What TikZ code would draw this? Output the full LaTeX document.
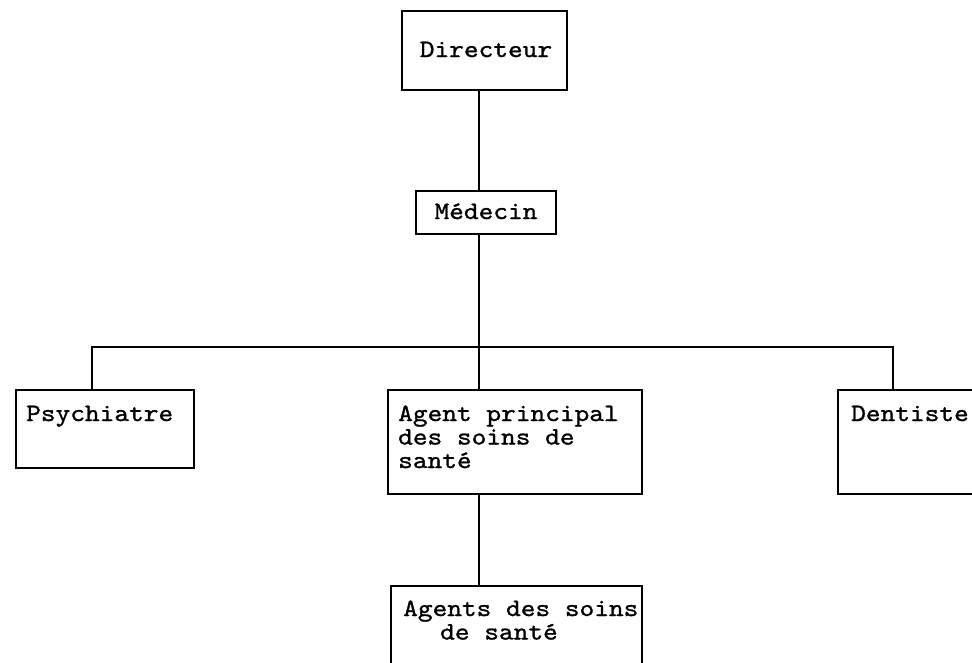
\documentclass[tikz,border=0pt]{standalone}
\usepackage{fontspec}
\newfontfamily\typewriter[Extension=.otf,FakeBold=1.1,FakeStretch=1.12]{lmmono10-regular}
\begin{document}
\begin{tikzpicture}[x=1pt,y=-1pt,
  box/.style={draw, line width=1.8pt, rectangle, inner sep=0pt, anchor=north west},
  lbl/.style={font=\typewriter\fontsize{25}{23.5}\selectfont, inner sep=0pt},
  wire/.style={line width=1.8pt}]
\useasboundingbox (0,0) rectangle (972,662);
\clip (0,0) rectangle (972,662);
\fill[white] (0,0) rectangle (972,662);

% boxes
\node[box, minimum width=165pt, minimum height=79pt] (dir) at (401,10) {};
\node[box, minimum width=140pt, minimum height=43pt] (med) at (415,190) {};
\node[box, minimum width=178pt, minimum height=78pt] (psy) at (15,389) {};
\node[box, minimum width=254pt, minimum height=104pt] (apr) at (387,389) {};
\node[box, minimum width=160pt, minimum height=104pt] (den) at (837,389) {};
\node[box, minimum width=251pt, minimum height=100pt] (ags) at (390,585) {};

% labels, one node per printed line
\node[lbl, anchor=base] (tdir) at (486,57) {Directeur};
\node[lbl, anchor=base] (tmed) at (486,219) {Médecin};
\node[lbl, anchor=base west] (tpsy) at (26,421) {Psychiatre};
\node[lbl, anchor=base west] (tapr1) at (398,421) {Agent principal};
\node[lbl, anchor=base west] (tapr2) at (398,444.5) {des soins de};
\node[lbl, anchor=base west] (tapr3) at (398,468) {santé};
\node[lbl, anchor=base west] (tden) at (851,421) {Dentiste};
\node[lbl, anchor=base west] (tags1) at (403,616) {Agents des soins};
\node[lbl, anchor=base west] (tags2) at (440,639.5) {de santé};

% connectors
\coordinate (bus) at (479,347);
\draw[wire] (dir.south -| bus) -- (med.north -| bus);
\draw[wire] (med.south -| bus) -- (bus);
\coordinate (busL) at (92,347);
\coordinate (busR) at (893,347);
\draw[wire] (psy.north -| busL) -- (busL) -- (busR) -- (den.north -| busR);
\draw[wire] (bus) -- (apr.north -| bus);
\draw[wire] (apr.south -| bus) -- (ags.north -| bus);
\end{tikzpicture}
\end{document}
